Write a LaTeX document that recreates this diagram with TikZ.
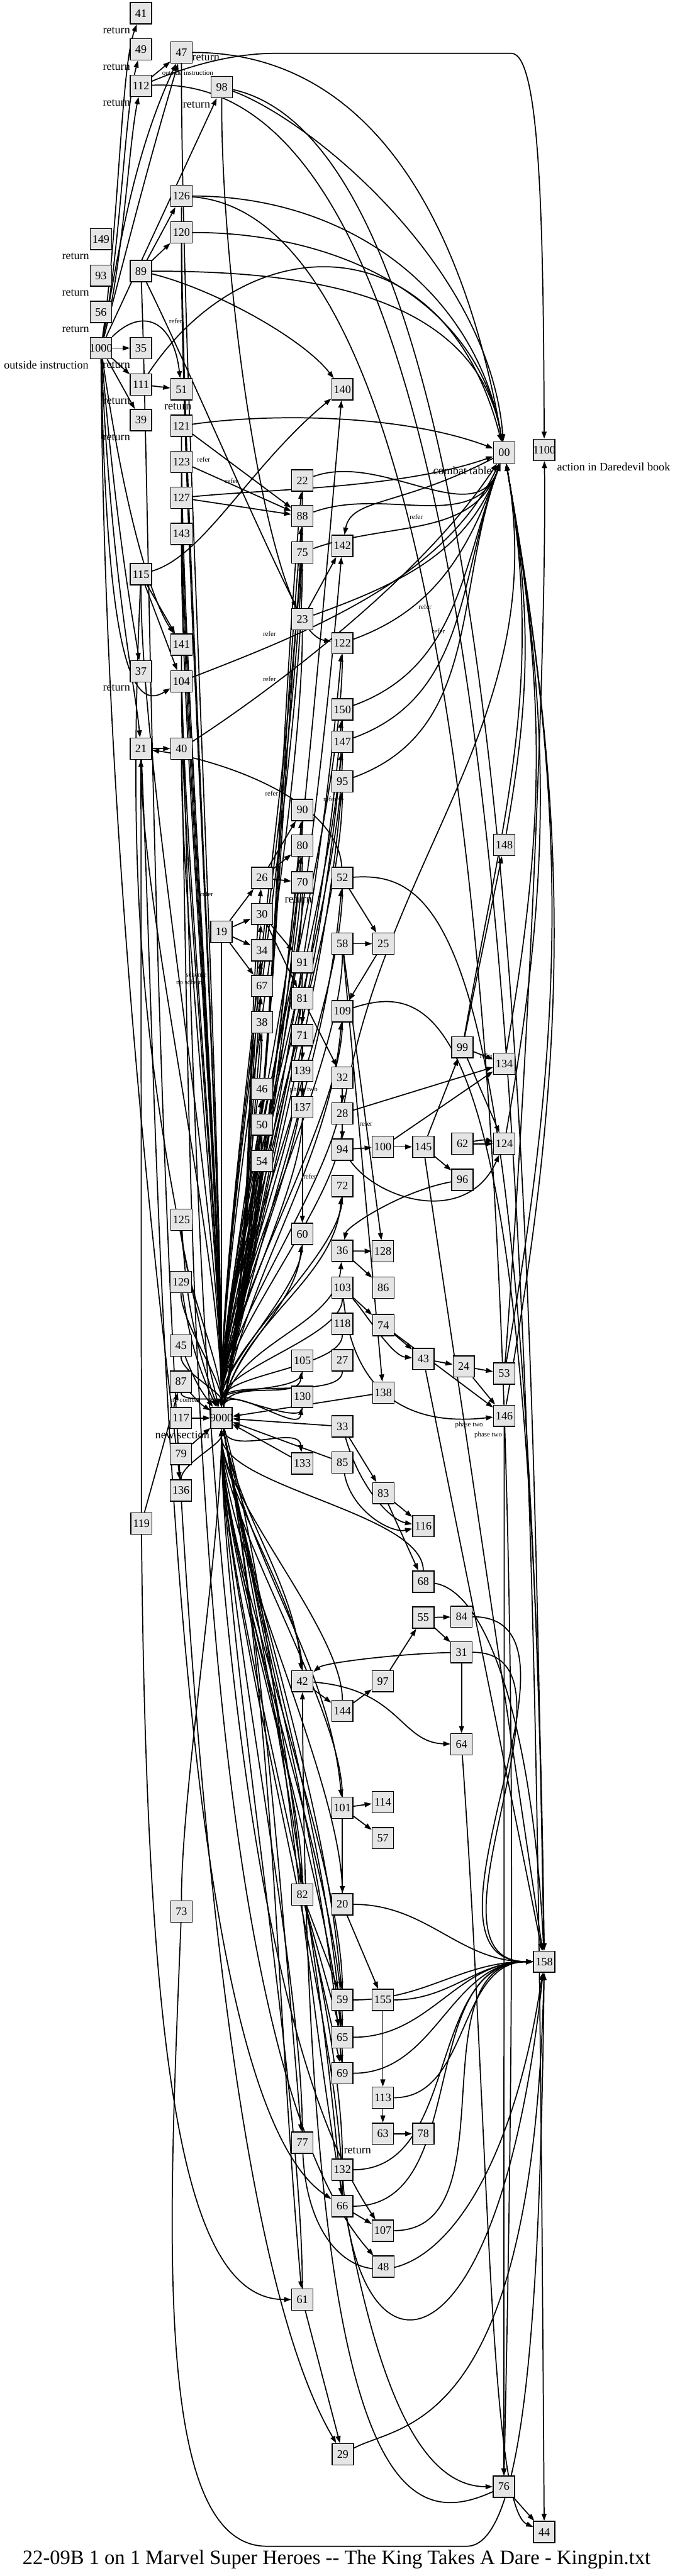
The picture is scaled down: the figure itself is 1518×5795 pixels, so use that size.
\documentclass[tikz,border=0pt]{standalone}
\usepackage{fontspec}
\setmainfont{Liberation Serif}
\usetikzlibrary{arrows.meta,backgrounds}
\tikzset{
  box/.style={draw,line width=.6pt,fill=black!10,minimum width=4.8mm,minimum height=4.8mm,inner sep=0pt,font=\fontsize{7.3}{8}\selectfont},
  e/.style={-{Triangle[length=1.6mm,width=1.1mm]},line width=.7pt},
  lbl/.style={inner sep=0pt,font=\fontsize{7.3}{8}\selectfont},
  sml/.style={inner sep=0pt,font=\fontsize{4.4}{5}\selectfont}
}
\begin{document}
\begin{tikzpicture}[x=.1mm,y=-.1mm]
\useasboundingbox (0,0) rectangle (1518,5795);
\foreach \n/\x/\y in {41/317/30,49/317/111,112/317/193,47/408/118,98/499/196,126/408/441,120/408/523,149/227/538,93/227/620,89/317/610,56/227/702,1000/227/783,35/317/783,111/317/865,51/408/876,140/770/876,39/317/945,121/408/958,00/1134/1018,1100/1224/1012,123/408/1039,22/680/1081,127/408/1120,88/680/1161,143/408/1201,142/770/1228,75/680/1243,115/317/1292,23/680/1393,122/770/1447,141/408/1450,37/317/1510,104/408/1533,150/770/1596,147/770/1669,21/317/1684,40/408/1684,95/770/1758,90/680/1822,148/1134/1901,80/680/1902,26/589/1975,52/770/1975,70/680/1985,30/589/2056,19/498/2096,58/770/2123,25/862/2123,34/589/2138,91/680/2165,67/589/2218,81/680/2246,109/770/2275,38/589/2300,71/680/2329,99/1040/2356,134/1134/2393,139/680/2409,32/770/2424,46/589/2450,137/680/2491,28/770/2505,50/589/2530,62/1040/2573,124/1134/2573,100/861/2580,145/952/2580,94/770/2586,54/589/2612,96/1040/2654,72/770/2668,125/408/2744,60/680/2776,36/770/2814,128/861/2815,129/407/2884,103/770/2897,86/862/2897,118/770/2978,74/862/2981,45/407/3027,43/952/3057,27/770/3060,105/680/3061,24/1043/3074,53/1134/3090,87/407/3108,138/862/3133,130/680/3142,146/1134/3185,117/407/3190,9000/498/3190,33/770/3209,79/407/3271,85/770/3290,133/680/3292,136/407/3353,83/862/3359,119/318/3427,116/952/3433,68/952/3558,84/1038/3637,55/952/3639,31/1038/3717,42/680/3782,97/861/3782,144/770/3849,64/1038/3924,114/861/4054,101/770/4067,57/861/4135,82/680/4262,20/770/4284,73/408/4300,158/1224/4413,59/770/4499,155/861/4499,65/770/4583,69/770/4664,113/861/4719,63/861/4800,78/952/4800,77/680/4820,132/770/4881,66/770/4963,107/861/5018,48/862/5099,61/680/5173,29/771/5521,76/1133/5594,44/1224/5696}
  \node[box] (n\n) at (\x,\y) {\makebox[0pt]{\n}};
\foreach \t/\x/\y [count=\i] in {return/262/68,return/262/150,return/262/231,return/463/129,return/442/235,return/170/577,return/170/658,return/170/740,outside instruction/104/821,return/262/821,return/262/902,return/400/915,return/262/984,return/262/1547,combat table/1040/1058,action in Daredevil book/1380/1050,return/671/2024,new section/410/3228,return/804/4838}
  \node[lbl] (big\i) at (\x,\y) {\t};
\foreach \t/\x/\y [count=\i] in {outside instruction/422/164,refer/395/723,refer/458/1034,refer/521/1082,refer/606/1425,refer/606/1527,refer/611/1785,refer/742/1798,refer/465/2011,refer/936/1163,refer/956/1365,refer/986/1420,refer/1094/2375,refer/823/2528,refer/697/2647,phase two/683/2451,phase two/1055/3206,phase two/1098/3229,scheme/441/2192,no scheme/429/2209,no combat/417/3149,combat/490/3149}
  \node[sml] (sm\i) at (\x,\y) {\t};
\node[font=\fontsize{13.1}{16}\selectfont] (title) at (757,5758) {22-09B 1 on 1 Marvel Super Heroes -{}- The King Takes A Dare - Kingpin.txt};
\begin{scope}[on background layer]
\foreach \a/\b in {1000/35,1000/111,1000/39,111/51,112/47,1000/98,89/126,89/120,121/88,123/88,127/88,115/141,115/104,21/40,19/26,19/30,19/34,19/67,26/90,26/80,26/70,30/91,30/81,81/71,71/139,139/137,137/60,81/32,32/28,28/94,94/100,100/145,145/96,145/99,99/148,99/134,99/124,62/124,28/134,100/134,52/25,58/25,25/109,36/128,36/86,103/74,74/43,74/146,43/24,24/53,24/146,33/83,83/116,83/68,55/84,55/31,97/55,144/97,42/144,31/64,101/114,101/57,101/20,82/59,82/65,82/69,20/155,63/78,113/63,155/113,66/107,76/44,61/29,23/142,119/21,119/87,58/128,58/138,146/76,145/158,43/158,117/9000,79/9000,138/9000,33/9000,133/9000,85/9000}
  \draw[e] (n\a) -- (n\b);
\draw[e] (n62) to[bend left=12] (n124);
\foreach \a in {47,126,120,121,123,127,143,115,141,104,40,21,19,90,80,70,91,71,139,137,60,38,46,50,54,105,130,52,58,109,32,28,72,103,118,27,150,147,95,122,75,88,22,23,129,45,125,87}
  \draw[e] (n\a) to[out=-90,in=90,looseness=.6] (n9000);
\foreach \a in {136,42,82,77,61,20,101,59,65,69,132,66,144,68,73}
  \draw[e] (n\a) to[out=90,in=-90,looseness=.6] (n9000);
\foreach \a in {125,129,45,87,115}
  \draw[e] (n\a) to[bend right=8] (n9000);
\foreach \b in {26,30,34,67,38,46,50,54,22,88,75,140,142,122,150,147,95,52,109,105,130,90,80,36,72,60}
  \draw[e] (n9000) to[out=80,in=-95,looseness=.9] (n\b);
\foreach \b in {133,42,82,77,61,101,59,65,69,66}
  \draw[e] (n9000) to[out=-80,in=95,looseness=.9] (n\b);
\foreach \a in {23,122,150,147,95,75,88,22}
  \draw[e] (n\a) to[out=20,in=-110] (n00);
\foreach \a in {148,99,134,124,53,146,28}
  \draw[e] (n\a) to[out=80,in=-80] (n00);
\foreach \a in {89,47,126,120}
  \draw[e] (n\a) to[out=0,in=100] (n00);
\foreach \a in {59,65,69,113,132,107,20,155,66,84,31}
  \draw[e] (n\a) to[out=0,in=180] (n158);
\draw[e] (n1000) .. controls (268,500) and (272,150) .. (n41);
\draw[e] (n1000) .. controls (272,550) and (280,250) .. (n49);
\draw[e] (n1000) .. controls (276,600) and (290,320) .. (n112);
\draw[e] (n1000) .. controls (270,550) and (300,350) .. (n47);
\draw[e] (n1000) .. controls (285,560) and (330,380) .. (n47);
\draw[e] (n1000.north east) .. controls (320,690) and (390,720) .. (n51);
\draw[e] (n112) .. controls (420,150) and (520,120) .. (620,120) -- (1150,120) .. controls (1215,120) and (1222,500) .. (n1100);
\draw[e] (n98) .. controls (700,270) and (1100,600) .. (n00);
\draw[e] (n89) .. controls (480,650) and (680,760) .. (n140);
\draw[e] (n89) .. controls (420,820) and (560,1150) .. (n23);
\draw[e] (n89) .. controls (350,1500) and (345,4800) .. (n29);
\draw[e] (n111) .. controls (560,500) and (1000,500) .. (n00);
\draw[e] (n121) .. controls (600,930) and (900,930) .. (n00);
\draw[e] (n127) .. controls (600,1100) and (900,1100) .. (n00);
\draw[e] (n00) .. controls (900,1140) and (790,1120) .. (n142);
\draw[e] (n98) .. controls (495,600) and (600,1420) .. (n122);
\draw[e] (n115) .. controls (460,1250) and (560,1050) .. (n140);
\draw[e] (n104) .. controls (700,1420) and (1000,1300) .. (n00);
\draw[e] (n40) .. controls (600,1560) and (950,1300) .. (n00);
\draw[e] (n52) .. controls (760,1800) and (500,1710) .. (n21);
\draw[e] (n1000) .. controls (262,1200) and (300,1400) .. (n37);
\draw[e] (n1000) .. controls (250,1300) and (305,1550) .. (n21);
\draw[e] (n1000) .. controls (280,1150) and (340,1350) .. (n141);
\draw[e] (n1000) .. controls (240,1500) and (300,1600) .. (n104);
\draw[e] (n1000) .. controls (235,2000) and (380,3100) .. (n136);
\draw[e] (n40) .. controls (430,2600) and (420,4600) .. (n48);
\draw[e] (n21) .. controls (360,2600) and (370,4700) .. (n66);
\draw[e] (n104) .. controls (440,2500) and (450,4400) .. (n107);
\draw[e] (n94) .. controls (850,2700) and (1050,2760) .. (n124);
\draw[e] (n96) .. controls (900,2680) and (780,2760) .. (n36);
\draw[e] (n109) .. controls (1000,2200) and (1200,2300) .. (n158);
\draw[e] (n52) .. controls (1000,1960) and (1190,2100) .. (n158);
\draw[e] (n103) .. controls (820,2950) and (880,3050) .. (n43);
\draw[e] (n103) .. controls (800,3200) and (1000,3200) .. (n146);
\draw[e] (n33) .. controls (810,3350) and (880,3420) .. (n116);
\draw[e] (n85) .. controls (790,3400) and (880,3450) .. (n116);
\draw[e] (n42) .. controls (900,3800) and (900,3920) .. (n64);
\draw[e] (n31) .. controls (900,3720) and (730,3740) .. (n42);
\draw[e] (n68) .. controls (1100,3580) and (1200,3900) .. (n158);
\draw[e] (n29) .. controls (900,5450) and (1200,5480) .. (n158);
\draw[e] (n9000) .. controls (720,4000) and (700,5594) .. (n76);
\draw[e] (n64) .. controls (1100,4800) and (1100,5640) .. (n44);
\draw[e] (n73) .. controls (380,5000) and (340,5728) .. (600,5728) -- (1050,5728) .. controls (1180,5728) and (1215,5200) .. (n158);
\draw[e] (n119) .. controls (330,4700) and (420,5173) .. (n61);
\draw[e] (n77) .. controls (700,5240) and (1100,5240) .. (n158);
\draw[e] (n132) .. controls (800,5380) and (1120,5380) .. (n158);
\draw[e] (n76) .. controls (900,5700) and (690,5600) .. (n42);
\draw[e] (n98) .. controls (1190,350) and (1195,3000) .. (n158);
\draw[e] (n112) .. controls (1200,150) and (1205,3000) .. (n44);
\draw[e] (n126) .. controls (1180,500) and (1180,3500) .. (n76);
\draw[e] (n53) .. controls (1180,2500) and (1230,1500) .. (n1100);
\end{scope}
\end{tikzpicture}
\end{document}
